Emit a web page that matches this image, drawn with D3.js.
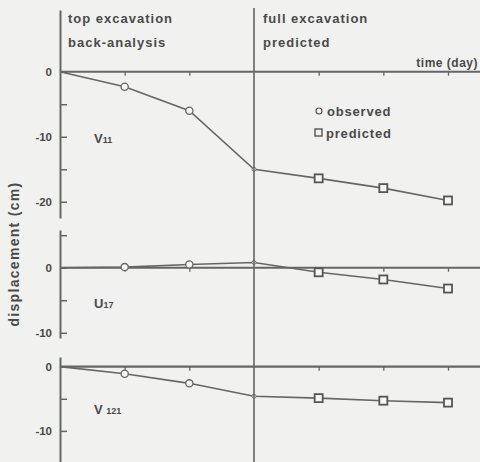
<!DOCTYPE html>
<html>
<head>
<meta charset="utf-8">
<script src="https://cdn.jsdelivr.net/npm/d3@7"></script>
<style>
  body { margin: 0; background: #f1f1ef; }
  svg text { font-family: "Liberation Sans", Arial, sans-serif; font-weight: bold; fill: #4a4a4a; }
  .axis path, .axis line { stroke: #666; }
</style>
</head>
<body>
<div id="chart"></div>
<script>
// time steps (no day values printed on the original axis)
var steps = [0, 1, 2, 3, 4, 5, 6];
// which steps are observed (back-analysis) and which are predicted
var observedSteps = [1, 2];
var predictedSteps = [4, 5, 6];

// displacement (cm)
var v11 = [0, -2.3, -6.0, -15.0, -16.4, -17.9, -19.8];
var u17 = [0, 0.1, 0.5, 0.8, -0.7, -1.8, -3.2];
var v121 = [0, -1.1, -2.6, -4.6, -4.9, -5.3, -5.6];

var panels = [
    { name: "V", sub: "11", values: v11, top: 9.5, bottom: -22.5, yTop: 10, yBottom: 218, ticks: [0, -5, -10, -15, -20], labelAt: -10.2 },
    { name: "U", sub: "17", values: u17, top: 5.8, bottom: -10.8, yTop: 230, yBottom: 338, ticks: [5, 0, -5, -10], labelAt: -5.4 },
    { name: "V ", sub: "121", values: v121, top: 1.5, bottom: -15, yTop: 357, yBottom: 463, ticks: [0, -5, -10], labelAt: -6.6 }
];

var W = 480, H = 462;

var svg = d3.select("#chart").append("svg")
    .attr("width", W)
    .attr("height", H);

var x = d3.scaleLinear()
    .domain([0, 6])
    .range([60, 448]);

panels.forEach(function(p) {
    var y = d3.scaleLinear()
        .domain([p.top, p.bottom])
        .range([p.yTop, p.yBottom]);

    // y axis, ticks pointing inward
    var yAxis = svg.append("g")
        .attr("class", "axis")
        .attr("transform", "translate(" + x(0) + ",0)")
        .call(d3.axisLeft(y)
            .tickValues(p.ticks)
            .tickSize(-7)
            .tickSizeOuter(0)
            .tickPadding(8)
            .tickFormat(function(d) { return d % 10 === 0 ? d : ""; }));
    yAxis.select(".domain").attr("stroke-width", 2);
    yAxis.selectAll(".tick line").attr("stroke-width", 1.5);
    yAxis.selectAll("text")
        .style("font-size", "11.5px")
        .style("font-family", "Liberation Sans, Arial, sans-serif")
        .style("font-weight", "bold")
        .attr("fill", "#4a4a4a");

    // zero (time) line with small ticks
    var xAxis = svg.append("g")
        .attr("class", "axis")
        .attr("transform", "translate(0," + y(0) + ")")
        .call(d3.axisBottom(x)
            .tickValues(steps.filter(function(s) { return s > 0 && s !== 3; }))
            .tickSize(4)
            .tickSizeOuter(0)
            .tickFormat(""));
    xAxis.select(".domain").remove();
    xAxis.selectAll(".tick line").attr("stroke-width", 1.3);
    xAxis.append("line")
        .attr("x1", x(0))
        .attr("x2", W)
        .attr("stroke", "#5a5a5a")
        .attr("stroke-width", 2.2);

    var line = d3.line()
        .x(function(d, i) { return x(steps[i]); })
        .y(function(d) { return y(d); });

    svg.append("path")
        .datum(p.values)
        .attr("d", line)
        .attr("fill", "none")
        .attr("stroke", "#666")
        .attr("stroke-width", 1.6);

    svg.selectAll(null)
        .data(observedSteps)
        .enter().append("circle")
        .attr("cx", function(s) { return x(s); })
        .attr("cy", function(s) { return y(p.values[s]); })
        .attr("r", 3.6)
        .attr("fill", "#f6f6f4")
        .attr("stroke", "#666")
        .attr("stroke-width", 1.3);

    svg.append("circle")
        .attr("cx", x(3))
        .attr("cy", y(p.values[3]))
        .attr("r", 2)
        .attr("fill", "#f6f6f4")
        .attr("stroke", "#777")
        .attr("stroke-width", 1);

    svg.selectAll(null)
        .data(predictedSteps)
        .enter().append("rect")
        .attr("x", function(s) { return x(s) - 4; })
        .attr("y", function(s) { return y(p.values[s]) - 4; })
        .attr("width", 8)
        .attr("height", 8)
        .attr("fill", "#f6f6f4")
        .attr("stroke", "#555")
        .attr("stroke-width", 1.8);

    // series name
    var t = svg.append("text")
        .attr("x", 94)
        .attr("y", y(p.labelAt) + 5)
        .style("font-size", "13px");
    t.append("tspan").text(p.name);
    t.append("tspan").style("font-size", "9px").text(p.sub);
});

// stage divider
svg.append("line")
    .attr("x1", x(3)).attr("x2", x(3))
    .attr("y1", 8).attr("y2", H)
    .attr("stroke", "#666")
    .attr("stroke-width", 1.6);

// stage captions
var captions = [
    { text: "top excavation", x: x(0) + 8, y: 23 },
    { text: "back-analysis", x: x(0) + 8, y: 47 },
    { text: "full excavation", x: x(3) + 9, y: 23 },
    { text: "predicted", x: x(3) + 9, y: 47 }
];
svg.selectAll(".caption")
    .data(captions)
    .enter().append("text")
    .attr("class", "caption")
    .attr("x", function(d) { return d.x; })
    .attr("y", function(d) { return d.y; })
    .style("font-size", "13px")
    .style("letter-spacing", "1px")
    .text(function(d) { return d.text; });

svg.append("text")
    .attr("x", 478)
    .attr("y", 67)
    .attr("text-anchor", "end")
    .style("font-size", "12px")
    .style("letter-spacing", "0.5px")
    .text("time (day)");

// legend
svg.append("circle")
    .attr("cx", 319).attr("cy", 111).attr("r", 3)
    .attr("fill", "none").attr("stroke", "#555").attr("stroke-width", 1.2);
svg.append("text")
    .attr("x", 327).attr("y", 116)
    .style("font-size", "13px").style("letter-spacing", "0.8px")
    .text("observed");
svg.append("rect")
    .attr("x", 315).attr("y", 129).attr("width", 7).attr("height", 7)
    .attr("fill", "none").attr("stroke", "#555").attr("stroke-width", 1.4);
svg.append("text")
    .attr("x", 326).attr("y", 138)
    .style("font-size", "13px").style("letter-spacing", "0.8px")
    .text("predicted");

// y label
svg.append("text")
    .attr("transform", "translate(19,254) rotate(-90)")
    .attr("text-anchor", "middle")
    .style("font-size", "14px")
    .style("letter-spacing", "1.3px")
    .text("displacement (cm)");
</script>
</body>
</html>
